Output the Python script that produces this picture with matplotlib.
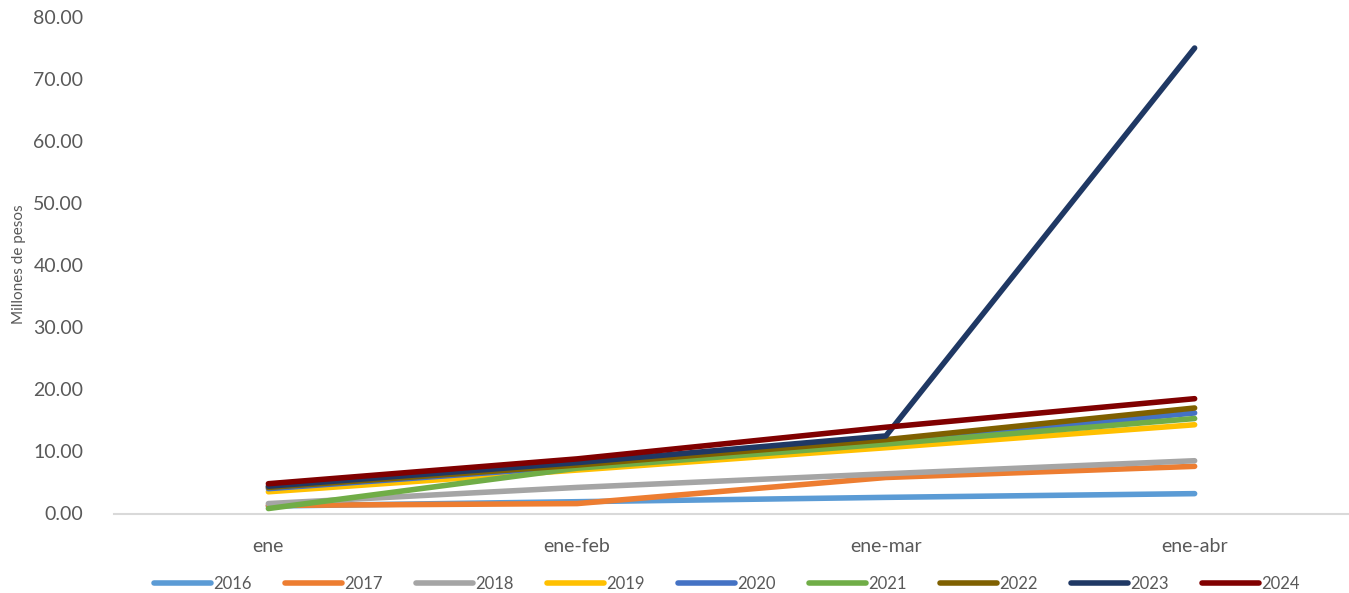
# Library imports
import matplotlib.pyplot as plt


# Data: cumulative amounts, millions of pesos
periods = ['ene', 'ene-feb', 'ene-mar', 'ene-abr']
years = ['2016', '2017', '2018', '2019', '2020', '2021', '2022', '2023', '2024']

v2016 = [1.2, 1.9, 2.6, 3.2]
v2017 = [1.3, 1.6, 5.8, 7.6]
v2018 = [1.6, 4.2, 6.4, 8.5]
v2019 = [3.5, 7.0, 10.6, 14.3]
v2020 = [4.0, 7.6, 11.5, 16.2]
v2021 = [0.8, 7.3, 11.2, 15.3]
v2022 = [4.2, 7.8, 11.9, 17.0]
v2023 = [4.4, 8.2, 12.5, 75.0]
v2024 = [4.8, 8.8, 13.9, 18.5]

series = [v2016, v2017, v2018, v2019, v2020, v2021, v2022, v2023, v2024]
colors = ['#5B9BD5', '#ED7D31', '#A5A5A5', '#FFC000', '#4472C4',
          '#70AD47', '#7F6000', '#1F3864', '#800000']

plt.rcParams['font.family'] = ['Lato', 'DejaVu Sans']
text_color = '#595959'

figure = plt.figure(figsize=(13.49, 5.93), dpi=100)
axis = figure.add_axes([114 / 1349, 1 - 513.5 / 593, 1 - 114 / 1349, (513.5 - 17) / 593])

x = range(len(periods))
for year, values, color in zip(years, series, colors):
    axis.plot(x, values, color=color, linewidth=4.0, label=year,
              solid_capstyle='round', solid_joinstyle='round')

axis.set_xlim(-0.5, 3.5)
axis.set_ylim(0, 80)
axis.set_yticks(range(0, 81, 10))
axis.set_yticklabels([f'{v:.2f}' for v in range(0, 81, 10)])
axis.set_xticks(list(x))
axis.set_xticklabels(periods)

for side in ['top', 'right', 'left']:
    axis.spines[side].set_visible(False)
axis.spines['bottom'].set_color('#D9D9D9')
axis.spines['bottom'].set_linewidth(1.5)
axis.spines['bottom'].set_clip_on(False)

axis.tick_params(axis='both', length=0, labelsize=14, colors=text_color)
axis.tick_params(axis='y', pad=22)
axis.tick_params(axis='x', pad=18)
axis.set_ylabel('Millones de pesos', fontsize=11, color=text_color)
axis.yaxis.set_label_coords(-0.0715, 0.503)

legend = figure.legend(loc='center', bbox_to_anchor=(0.539, 0.015), ncol=9,
                       frameon=False, fontsize=12, handlelength=3.4,
                       handletextpad=0.15, columnspacing=2.0,
                       labelcolor=text_color)
for handle in legend.get_lines():
    handle.set_linewidth(4.0)
    handle.set_solid_capstyle('round')

plt.savefig('out.png', dpi=100)
